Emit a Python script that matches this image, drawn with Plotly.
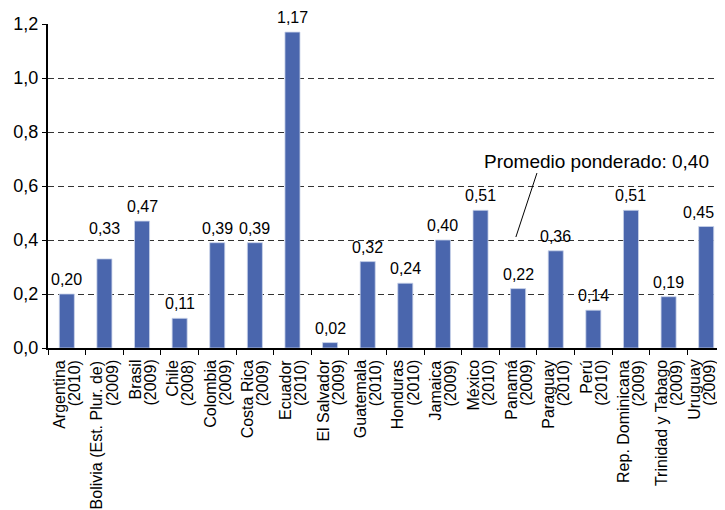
import plotly.graph_objects as go

countries = ["Argentina", "Bolivia (Est. Plur. de)", "Brasil", "Chile", "Colombia",
             "Costa Rica", "Ecuador", "El Salvador", "Guatemala", "Honduras",
             "Jamaica", "México", "Panamá", "Paraguay", "Perú",
             "Rep. Dominicana", "Trinidad y Tabago", "Uruguay"]
years = ["2010", "2009", "2009", "2008", "2009", "2009", "2010", "2009", "2010",
         "2010", "2009", "2010", "2009", "2010", "2010", "2009", "2009", "2009"]
values = [0.20, 0.33, 0.47, 0.11, 0.39, 0.39, 1.17, 0.02, 0.32, 0.24,
          0.40, 0.51, 0.22, 0.36, 0.14, 0.51, 0.19, 0.45]
y_ticks = [0.0, 0.2, 0.4, 0.6, 0.8, 1.0, 1.2]
y_tick_labels = ["0,0", "0,2", "0,4", "0,6", "0,8", "1,0", "1,2"]
promedio = 0.40
promedio_label = "Promedio ponderado: 0,40"

categories = [f"{c} ({y})" for c, y in zip(countries, years)]
fmt = lambda v: f"{v:.2f}".replace(".", ",")

FONT = "Liberation Sans, Arial, sans-serif"

fig = go.Figure()
fig.add_trace(go.Bar(
    x=categories, y=values, width=0.4,
    marker=dict(color="#4A66AD", line=dict(color="#C9D3EA", width=0.8)),
    hoverinfo="skip",
))

# value labels (a few are offset in the original)
lift = {"Bolivia (Est. Plur. de)": 16}
nudge_x = {"Uruguay": -8}
for name, cat, v in zip(countries, categories, values):
    fig.add_annotation(x=cat, y=v, text=fmt(v), showarrow=False,
                       yanchor="bottom", yshift=4 + lift.get(name, 0),
                       xshift=nudge_x.get(name, 0),
                       font=dict(size=16, color="black", family=FONT))

# category labels: two rotated lines, ending just below the axis
label_nudge = {"Uruguay": -5}
LINE_GAP = 7.5
for name, yr, cat in zip(countries, years, categories):
    nud = label_nudge.get(name, 0)
    for txt, dx in ((name, -LINE_GAP), (f"({yr})", LINE_GAP)):
        fig.add_annotation(x=cat, y=0, xref="x", yref="y", text=txt,
                           textangle=-90, showarrow=False,
                           xanchor="center", yanchor="top", yshift=-11,
                           xshift=dx + nud, borderpad=0,
                           font=dict(size=16, color="black", family=FONT))

# Promedio ponderado pointer
idx = countries.index("Panamá")
fig.add_shape(type="line", xref="x", yref="y",
              x0=idx - 0.06, y0=promedio + 0.011, x1=idx + 0.5, y1=0.648,
              line=dict(color="black", width=1))
fig.add_annotation(x=idx - 0.97, y=0.689, xref="x", yref="y",
                   text=promedio_label, showarrow=False,
                   xanchor="left", yanchor="middle",
                   font=dict(size=19, color="black", family=FONT))

fig.update_layout(
    width=717, height=502,
    margin=dict(l=40, r=0, t=16, b=162),
    plot_bgcolor="white", paper_bgcolor="white",
    showlegend=False,
    font=dict(family=FONT, color="black"),
    xaxis=dict(
        type="category", range=[-0.5, len(categories) - 0.5],
        showticklabels=False,
        showline=True, linecolor="black", linewidth=2,
        ticks="outside", tickson="boundaries", ticklen=5, tickcolor="black",
        showgrid=False,
    ),
    yaxis=dict(
        range=[0, 1.2], tickvals=y_ticks, ticktext=y_tick_labels,
        tickfont=dict(size=18, family=FONT, color="black"),
        showline=True, linecolor="black", linewidth=2,
        ticks="outside", ticklen=4, tickcolor="black",
        showgrid=True, gridcolor="#333333", gridwidth=1, griddash="6px,4px",
        zeroline=False,
    ),
)

fig.write_html("out.html")
